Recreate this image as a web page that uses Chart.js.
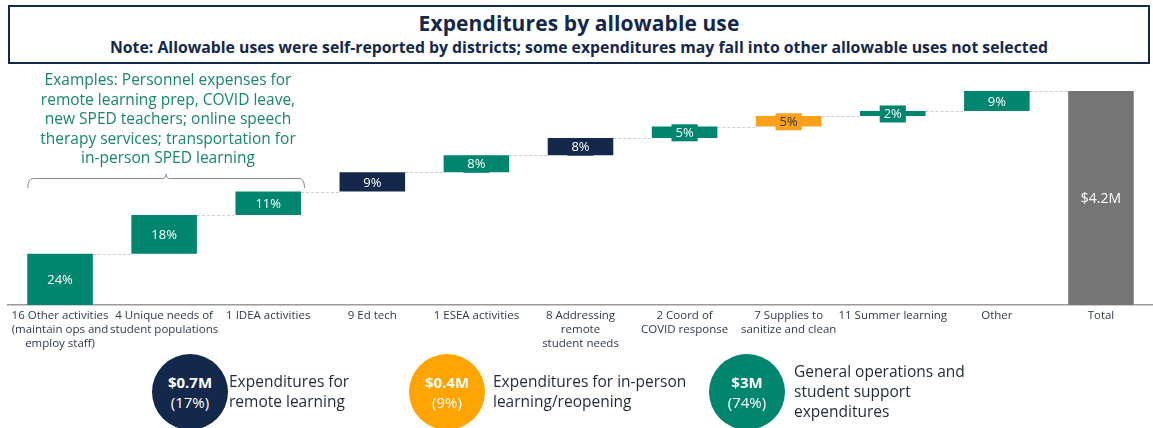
<!DOCTYPE html>
<html>
<head>
<meta charset="utf-8">
<script src="https://cdn.jsdelivr.net/npm/chart.js@4.4.1/dist/chart.umd.min.js"></script>
<style>
  body { margin: 0; width: 1153px; height: 428px; overflow: hidden; background: #fff; position: relative; font-family: "Open Sans", sans-serif; }
  #head { position: absolute; left: 8px; top: 5px; width: 1138px; height: 55px; border: 2px solid #14284b; text-align: center; color: #14284b; }
  #head h1 { margin: 3px 0 0 0; font-size: 21px; font-weight: 700; line-height: 27px; letter-spacing: 0.1px; }
  #head p { margin: 0; font-size: 15.8px; font-weight: 700; line-height: 20px; }
  #wrap { position: absolute; left: 0; top: 0; width: 1153px; height: 360px; }
  #note { position: absolute; left: 18px; top: 70px; width: 300px; text-align: center; color: #17866f; font-size: 15.5px; line-height: 19.5px; }
  .circ { position: absolute; top: 354px; width: 76px; height: 76px; border-radius: 50%; color: #fff; text-align: center; font-size: 15px; line-height: 20px; }
  .circ b { display: block; margin-top: 18px; }
  .lbl { position: absolute; color: #1e2a3a; font-size: 15.5px; line-height: 20px; }
</style>
</head>
<body>
<div id="head">
  <h1>Expenditures by allowable use</h1>
  <p>Note: Allowable uses were self-reported by districts; some expenditures may fall into other allowable uses not selected</p>
</div>
<div id="wrap"><canvas id="myChart"></canvas></div>
<div id="note">Examples: Personnel expenses for<br>remote learning prep, COVID leave,<br>new SPED teachers; online speech<br>therapy services; transportation for<br>in-person SPED learning</div>

<div class="circ" style="left:152px;background:#14284b"><b>$0.7M</b>(17%)</div>
<div class="lbl" style="left:229px;top:371px">Expenditures for<br>remote learning</div>
<div class="circ" style="left:409px;background:#ffa400"><b>$0.4M</b>(9%)</div>
<div class="lbl" style="left:493px;top:371px">Expenditures for in-person<br>learning/reopening</div>
<div class="circ" style="left:709px;background:#00856f"><b>$3M</b>(74%)</div>
<div class="lbl" style="left:794px;top:361px">General operations and<br>student support<br>expenditures</div>

<script>
const categories = [
    ['16 Other activities', '(maintain ops and', 'employ staff)'],
    ['4 Unique needs of', 'student populations'],
    '1 IDEA activities',
    '9 Ed tech',
    '1 ESEA activities',
    ['8 Addressing', 'remote', 'student needs'],
    ['2 Coord of', 'COVID response'],
    ['7 Supplies to', 'sanitize and clean'],
    '11 Summer learning',
    'Other',
    'Total'
]
// share of total spending (%) for each allowable use
const shares = [24, 18, 11, 9, 8, 8, 5.4, 4.9, 2.4, 9.3]
const totalLabel = '$4.2M'

const teal = '#00856f'
const navy = '#14284b'
const orange = '#f9a11b'
const gray = '#757575'
const barColors = [teal, teal, teal, navy, teal, navy, teal, orange, teal, teal, gray]

// build floating bars [start, end]
let running = 0
const floating = []
const ends = []
shares.forEach((s) => {
    floating.push([running, running + s])
    running += s
    ends.push(running)
})
floating.push([0, running])
ends.push(running)

const barLabels = shares.map((s) => Math.round(s) + '%')
barLabels.push(totalLabel)

const waterfallExtras = {
    id: 'waterfallExtras',
    beforeDatasetsDraw(chart) {
        const ctx = chart.ctx
        const meta = chart.getDatasetMeta(0)
        const y = chart.scales.y
        ctx.save()
        ctx.strokeStyle = '#cfcfcf'
        ctx.lineWidth = 1
        ctx.setLineDash([3, 2])
        for (let i = 0; i < meta.data.length - 1; i++) {
            const a = meta.data[i]
            const b = meta.data[i + 1]
            const py = Math.round(y.getPixelForValue(ends[i])) + 0.5
            ctx.beginPath()
            ctx.moveTo(a.x + a.width / 2, py)
            ctx.lineTo(b.x - b.width / 2, py)
            ctx.stroke()
        }
        ctx.setLineDash([])

        // brace over the first three bars
        const x0 = meta.data[0].x - meta.data[0].width / 2
        const x1 = meta.data[2].x + meta.data[2].width / 2 + 4
        const mid = (x0 + x1) / 2
        ctx.strokeStyle = '#8a8a8a'
        ctx.beginPath()
        ctx.moveTo(x0 + 0.5, 188)
        ctx.quadraticCurveTo(x0 + 0.5, 178.5, x0 + 6, 178.5)
        ctx.lineTo(mid - 4, 178.5)
        ctx.quadraticCurveTo(mid, 178.5, mid, 174)
        ctx.quadraticCurveTo(mid, 178.5, mid + 4, 178.5)
        ctx.lineTo(x1 - 6, 178.5)
        ctx.quadraticCurveTo(x1 - 0.5, 178.5, x1 - 0.5, 188)
        ctx.stroke()
        ctx.restore()
    },
    afterDatasetsDraw(chart) {
        const ctx = chart.ctx
        const meta = chart.getDatasetMeta(0)
        ctx.save()
        ctx.textAlign = 'center'
        ctx.textBaseline = 'middle'
        meta.data.forEach((bar, i) => {
            const cy = (bar.y + bar.base) / 2
            const isTotal = i === meta.data.length - 1
            ctx.font = (isTotal ? '14px' : '13px') + ' "Open Sans"'
            const w = ctx.measureText(barLabels[i]).width + 8
            if (!isTotal) {
                ctx.fillStyle = barColors[i]
                ctx.fillRect(bar.x - w / 2, cy - 8, w, 17)
            }
            ctx.fillStyle = barColors[i] === orange ? '#333' : '#fff'
            ctx.fillText(barLabels[i], bar.x, cy + 1)
        })
        ctx.restore()
    }
}

const ctx = document.getElementById('myChart')

const myChart = new Chart(ctx, {
    type: 'bar',
    data: {
        labels: categories,
        datasets: [{
            data: floating,
            backgroundColor: barColors,
            borderWidth: 0,
            barPercentage: 0.63,
            categoryPercentage: 1,
        }],
    },
    options: {
        responsive: true,
        maintainAspectRatio: false,
        animation: false,
        layout: { padding: { top: 91, left: 8, right: 0, bottom: 0 } },
        plugins: {
            legend: { display: false },
            tooltip: { enabled: false },
        },
        scales: {
            y: {
                display: false,
                min: 0,
                max: 100,
            },
            x: {
                grid: { display: false, drawTicks: false },
                border: { display: true, color: '#9a9a9a', width: 1.5 },
                ticks: {
                    color: '#2e3a4c',
                    font: { family: 'Open Sans', size: 11.5, lineHeight: 1.22 },
                    padding: 4,
                    maxRotation: 0,
                    autoSkip: false,
                },
                afterFit: (scale) => { scale.height = 55 },
            },
        },
    },
    plugins: [waterfallExtras],
})
</script>
</body>
</html>
